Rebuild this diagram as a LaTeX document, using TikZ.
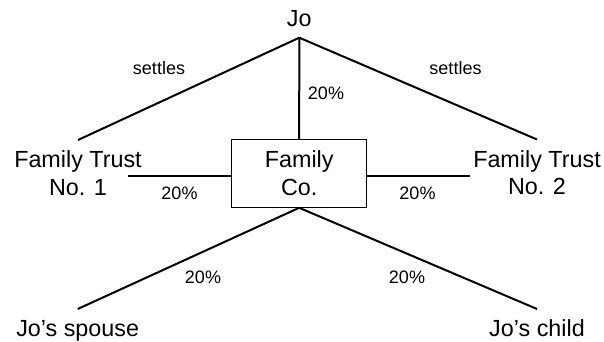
\documentclass[tikz,border=0pt]{standalone}
\usepackage{fontspec}
\setmainfont{Liberation Sans}
\begin{document}
\begin{tikzpicture}[x=0.75pt,y=-0.75pt,
  line width=1.5pt,
  name node/.style={font=\fontsize{17.5}{20.5}\selectfont,align=center,inner xsep=2pt,inner ysep=7.5pt},
  co node/.style={draw,line width=0.75pt,font=\fontsize{17.5}{21.5}\selectfont,align=center,minimum width=101.25pt,minimum height=51pt,inner sep=0pt},
  pct node/.style={font=\fontsize{13.5}{16}\selectfont,inner sep=0pt}]

  \useasboundingbox (0,0) rectangle (604,342);

  \node[name node,anchor=south] (jo) at (299.3,37.7) {Jo};
  \node[name node,anchor=north] (ft1) at (78,140) {Family Trust\\No. 1};
  \node[name node,anchor=north] (ft2) at (537,139.5) {Family Trust\\No. 2};
  \node[co node] (co) at (299.2,173.3) {Family\\Co.};
  \node[name node,anchor=north] (sp) at (77.7,309) {Jo’s spouse};
  \node[name node,anchor=north] (ch) at (537,309) {Jo’s child};

  \coordinate (ft1end) at (128,175.7);
  \coordinate (ft2end) at (470,175.7);

  \node[pct node] (set1) at (159,68.5) {settles};
  \node[pct node] (set2) at (455.5,68.5) {settles};
  \node[pct node] (pjo) at (326,93.5) {20\%};
  \node[pct node] (pft1) at (179.5,193) {20\%};
  \node[pct node] (pft2) at (417.5,193) {20\%};
  \node[pct node] (psp) at (203,277) {20\%};
  \node[pct node] (pch) at (407,277) {20\%};

  \path
   (jo.south) edge (ft1.north)
   (jo.south) edge (ft2.north)
   (jo.south) edge (co.north)

   (ft1end) edge (ft1end -| co.west)
   (ft2end) edge (ft2end -| co.east)

   (co.south) edge (sp.north)
   (co.south) edge (ch.north);
\end{tikzpicture}
\end{document}
